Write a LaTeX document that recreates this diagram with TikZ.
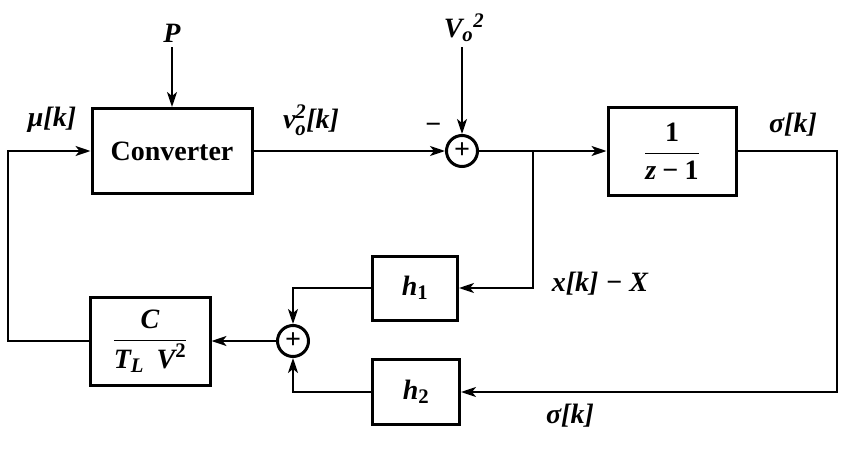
\documentclass[tikz,border=0pt]{standalone}
\usepackage{amsmath}
\usepackage{mathptmx}
\usepackage{fontspec}
\setmainfont{Liberation Serif}
\newcommand{\bi}[1]{\text{\bfseries\itshape #1}}
\newcommand{\bu}[1]{\text{\bfseries #1}}
\usetikzlibrary{arrows.meta}
\begin{document}
\begin{tikzpicture}[x=1pt,y=-1pt,
  every node/.style={font=\fontsize{28}{32}\selectfont\bfseries},
  blk/.style={draw,line width=3pt,rectangle,inner sep=0pt},
  sumc/.style={draw,line width=3pt,circle,minimum size=31pt,inner sep=0pt},
  plus/.style={inner sep=0pt,font=\fontsize{28}{28}\selectfont\bfseries},
  arr/.style={line width=2pt,-{Stealth[length=15pt,width=10pt,inset=4pt]}},
  lbl/.style={inner sep=0pt,font=\fontsize{28}{32}\selectfont\bfseries\itshape}]
\useasboundingbox (0,0) rectangle (849,471);
% blocks
\node[blk,minimum width=160pt,minimum height=85pt] (conv) at (172,151) {Converter};
\node[blk,minimum width=128pt,minimum height=88pt] (integ) at (672,151) {$\displaystyle\frac{\bu{1}}{\bi{z}\;\bu{−}\;\bu{1}}$};
\node[blk,minimum width=120pt,minimum height=88pt] (cbox) at (150,341) {$\displaystyle\frac{\bi{C}}{\bi{T}_{\bi{L}}\;\;\bi{V}^{\bu{2}}}$};
\node[blk,minimum width=85pt,minimum height=64pt] (h1) at (415,288) {$\bi{h}_{\bu{1}}$};
\node[blk,minimum width=87pt,minimum height=65pt] (h2) at (416,392) {$\bi{h}_{\bu{2}}$};
\node[sumc] (sum1) at (462,151) {};
\node[sumc] (sum2) at (293,341) {};
\node[plus] (p1) at (sum1.center) {+};
\node[plus] (p2) at (sum2.center) {+};
% coordinates
\coordinate (Ptop) at (172,47);
\coordinate (Vtop) at (462,47);
\coordinate (br) at (533,151);
\coordinate (rc1) at (837,151);
\coordinate (rc2) at (837,392);
\coordinate (l1) at (8,341);
\coordinate (l2) at (8,151);
% connectors
\draw[arr] (Ptop) -- (conv.north);
\draw[arr] (Vtop) -- (sum1.north);
\draw[arr] (conv.east) -- (sum1.west);
\draw[arr] (sum1.east) -- (integ.west);
\draw[arr] (br) |- (h1.east);
\draw[arr] (integ.east) -- (rc1) -- (rc2) -- (h2.east);
\draw[arr] (h1.west) -| (sum2.north);
\draw[arr] (h2.west) -| (sum2.south);
\draw[arr] (sum2.west) -- (cbox.east);
\draw[arr] (cbox.west) -- (l1) -- (l2) -- (conv.west);
% labels
\node[lbl] (lP) at (172,33) {P};
\node[lbl] (lV) at (464,28) {$\bi{V}_{\bi{o}}{}^{\bu{2}}$};
\node[lbl] (lmu) at (52,120) {μ[k]};
\node[lbl] (lv) at (311,120) {$\bi{v}_{\bi{o}}^{\bu{2}}\bi{[k]}$};
\node[lbl] (lminus) at (433,128) {−};
\node[lbl] (lsig1) at (793,125) {σ[k]};
\node[lbl] (lx) at (600,284) {x[k] − X};
\node[lbl] (lsig2) at (570,416) {σ[k]};
\end{tikzpicture}
\end{document}
